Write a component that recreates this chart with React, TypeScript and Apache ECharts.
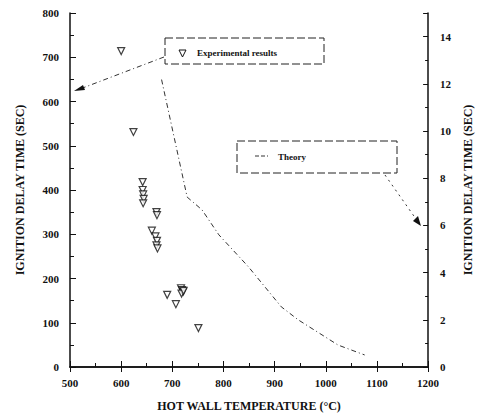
import React, { useEffect, useRef } from "react";
import * as echarts from "echarts";

// Experimental results (left axis, seconds)
const expTemp = [600, 624, 642, 642, 643, 644, 643, 669, 670, 660, 667, 670, 669, 671, 690, 707, 717, 719, 721, 718, 722, 751];
const expTime = [714, 531, 418, 400, 390, 380, 370, 350, 343, 308, 295, 285, 275, 268, 163, 142, 178, 174, 170, 166, 172, 88];

// Theory (right axis, seconds)
const theoryTemp = [679, 729, 758, 791, 849, 913, 946, 1024, 1076];
const theoryTime = [12.18, 7.2, 6.66, 5.6, 4.24, 2.55, 2.0, 0.93, 0.51];

const FONT = "'Liberation Serif', 'DejaVu Serif', serif";

export default function App() {
  const ref = useRef<HTMLDivElement>(null);
  useEffect(() => {
    if (!ref.current) return;
    const chart = echarts.init(ref.current, undefined, { renderer: "svg" });
    const axisLine = { show: true, lineStyle: { color: "#111", width: 1.5 } };
    const labelStyle = { color: "#111", fontFamily: FONT, fontWeight: "bold" as const, fontSize: 11 };
    const nameStyle = { color: "#111", fontFamily: FONT, fontWeight: "bold" as const, fontSize: 12 };
    const plain = (v: number) => String(v);
    chart.setOption({
      animation: false,
      backgroundColor: "#fff",
      grid: { left: 70, right: 52, top: 13, bottom: 50 },
      xAxis: [
        {
          type: "value",
          position: "bottom",
          min: 500,
          max: 1200,
          interval: 100,
          axisLine,
          axisTick: { inside: true, length: 6, lineStyle: { color: "#111" } },
          minorTick: { show: true, splitNumber: 2, length: 4, lineStyle: { color: "#111" } },
          splitLine: { show: false },
          axisLabel: { ...labelStyle, margin: 10, formatter: plain },
          name: "HOT WALL TEMPERATURE (°C)",
          nameLocation: "middle",
          nameGap: 33,
          nameTextStyle: nameStyle,
        },
        {
          type: "value",
          position: "top",
          min: 500,
          max: 1200,
          interval: 100,
          axisLine,
          axisTick: { inside: true, length: 5, lineStyle: { color: "#111" } },
          splitLine: { show: false },
          axisLabel: { show: false },
        },
      ],
      yAxis: [
        {
          type: "value",
          position: "left",
          min: 0,
          max: 800,
          interval: 100,
          axisLine,
          axisTick: { inside: true, length: 6, lineStyle: { color: "#111" } },
          minorTick: { show: true, splitNumber: 2, length: 4, lineStyle: { color: "#111" } },
          splitLine: { show: false },
          axisLabel: { ...labelStyle, margin: 11, formatter: plain },
          name: "IGNITION DELAY TIME (SEC)",
          nameLocation: "middle",
          nameGap: 44,
          nameTextStyle: nameStyle,
        },
        {
          type: "value",
          position: "right",
          min: 0,
          max: 15,
          interval: 2,
          axisLine,
          axisTick: { inside: true, length: 5, lineStyle: { color: "#111" } },
          minorTick: { show: true, splitNumber: 2, length: 3, lineStyle: { color: "#111" } },
          splitLine: { show: false },
          axisLabel: { ...labelStyle, margin: 12, showMaxLabel: false, formatter: plain },
          name: "IGNITION DELAY TIME (SEC)",
          nameLocation: "middle",
          nameGap: 32,
          nameRotate: 90,
          nameTextStyle: nameStyle,
        },
      ],
      series: [
        {
          name: "Experimental results",
          type: "scatter",
          xAxisIndex: 0,
          yAxisIndex: 0,
          symbol: "triangle",
          symbolRotate: 180,
          symbolSize: 7,
          itemStyle: { color: "#fff", borderColor: "#111", borderWidth: 1.2 },
          data: expTemp.map((t, i) => [t, expTime[i]]),
        },
        {
          name: "Theory",
          type: "line",
          xAxisIndex: 0,
          yAxisIndex: 1,
          showSymbol: false,
          lineStyle: { color: "#333", width: 1, type: [5, 3, 1, 3] },
          data: theoryTemp.map((t, i) => [t, theoryTime[i]]),
        },
      ],
      graphic: [
        {
          type: "rect",
          shape: { x: 165, y: 38, width: 159, height: 26 },
          style: { fill: "#fff", stroke: "#222", lineWidth: 1, lineDash: [8, 3] },
        },
        {
          type: "polygon",
          shape: { points: [[179, 50], [186, 50], [182.5, 57]] },
          style: { fill: "#fff", stroke: "#111", lineWidth: 1 },
        },
        {
          type: "text",
          x: 197,
          y: 53,
          style: { text: "Experimental results", fontFamily: FONT, fontWeight: "bold", fontSize: 9, fill: "#111", verticalAlign: "middle" },
        },
        {
          type: "rect",
          shape: { x: 237, y: 141, width: 160, height: 32 },
          style: { fill: "#fff", stroke: "#222", lineWidth: 1, lineDash: [8, 3] },
        },
        {
          type: "line",
          shape: { x1: 255, y1: 156, x2: 268, y2: 156 },
          style: { stroke: "#333", lineWidth: 1, lineDash: [4, 2] },
        },
        {
          type: "text",
          x: 278,
          y: 157,
          style: { text: "Theory", fontFamily: FONT, fontWeight: "bold", fontSize: 9, fill: "#111", verticalAlign: "middle" },
        },
        {
          type: "line",
          shape: { x1: 164, y1: 57, x2: 80, y2: 89 },
          style: { stroke: "#333", lineWidth: 1, lineDash: [5, 3, 1, 3] },
        },
        {
          type: "polygon",
          shape: { points: [[74, 91], [83, 85], [85, 90]] },
          style: { fill: "#111" },
        },
        {
          type: "line",
          shape: { x1: 385, y1: 175, x2: 416, y2: 219 },
          style: { stroke: "#333", lineWidth: 1, lineDash: [2, 4] },
        },
        {
          type: "polygon",
          shape: { points: [[421, 226], [413, 221], [418, 216]] },
          style: { fill: "#111" },
        },
      ],
    });
    return () => chart.dispose();
  }, []);
  return <div ref={ref} style={{ position: "fixed", left: 0, top: 0, width: 482, height: 417 }} />;
}
